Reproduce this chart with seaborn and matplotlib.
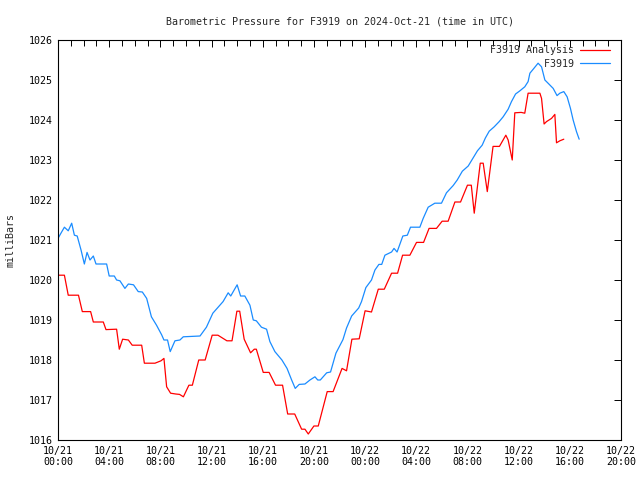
import pandas as pd
import matplotlib
matplotlib.use('Agg')
import matplotlib.pyplot as plt
import matplotlib.dates as mdates
import seaborn as sns

# hours after 2024-10-21 00:00 UTC and pressure in mb
analysis_hours = [0, 0.5, 0.8, 1.6, 1.9, 2.55, 2.76, 3.54, 3.75, 4.58, 4.79, 5.05, 5.5, 5.8,
                  6.54, 6.75, 7.58, 8.05, 8.28, 8.49, 8.8, 9.2, 9.5, 9.8, 10.23, 10.5, 11.0,
                  11.5, 12.05, 12.5, 13.2, 13.6, 13.98, 14.2, 14.55, 15.05, 15.34, 15.5, 16.04,
                  16.5, 17.0, 17.55, 17.95, 18.5, 19.04, 19.3, 19.56, 20.0, 20.34, 21.04, 21.5,
                  22.2, 22.55, 22.97, 23.54, 24.0, 24.5, 25.03, 25.5, 26.07, 26.54, 26.93, 27.5,
                  28.02, 28.57, 29.0, 29.58, 30.02, 30.49, 31.02, 31.46, 32.0, 32.3, 32.53, 33.0,
                  33.23, 33.55, 34.0, 34.5, 35.0, 35.18, 35.5, 35.7, 36.2, 36.48, 36.74, 37.66,
                  37.79, 37.99, 38.18, 38.57, 38.83, 38.96, 39.22, 39.53]
analysis_mb = [1020.12, 1020.12, 1019.62, 1019.62, 1019.21, 1019.21, 1018.95, 1018.95, 1018.76,
               1018.77, 1018.27, 1018.52, 1018.5, 1018.37, 1018.37, 1017.92, 1017.92, 1017.98,
               1018.04, 1017.33, 1017.17, 1017.15, 1017.14, 1017.08, 1017.37, 1017.37, 1018.0,
               1018.0, 1018.62, 1018.62, 1018.48, 1018.48, 1019.22, 1019.22, 1018.52, 1018.18,
               1018.27, 1018.27, 1017.69, 1017.69, 1017.37, 1017.37, 1016.65, 1016.65, 1016.27,
               1016.27, 1016.15, 1016.35, 1016.35, 1017.21, 1017.21, 1017.79, 1017.73, 1018.52,
               1018.53, 1019.23, 1019.2, 1019.77, 1019.77, 1020.17, 1020.17, 1020.62, 1020.62,
               1020.94, 1020.94, 1021.29, 1021.29, 1021.47, 1021.47, 1021.95, 1021.95, 1022.37,
               1022.37, 1021.67, 1022.92, 1022.92, 1022.21, 1023.34, 1023.34, 1023.62, 1023.5,
               1023.0, 1024.18, 1024.19, 1024.17, 1024.67, 1024.67, 1024.54, 1023.9, 1023.96,
               1024.04, 1024.14, 1023.43, 1023.48, 1023.52]

station_hours = [0, 0.23, 0.5, 0.8, 1.07, 1.28, 1.5, 1.8, 2.06, 2.27, 2.5, 2.76, 2.97, 3.8, 4.0,
                 4.4, 4.58, 4.84, 5.23, 5.5, 5.9, 6.27, 6.59, 6.93, 7.3, 7.7, 8.1, 8.28, 8.56,
                 8.77, 9.14, 9.53, 9.79, 11.1, 11.6, 12.1, 12.9, 13.3, 13.5, 14.0, 14.27, 14.6,
                 15.0, 15.26, 15.5, 15.9, 16.3, 16.56, 16.95, 17.5, 17.9, 18.26, 18.54, 18.85,
                 19.3, 19.69, 20.08, 20.3, 20.5, 21.0, 21.3, 21.72, 22.27, 22.55, 22.95, 23.5,
                 23.72, 24.06, 24.5, 24.77, 25.08, 25.3, 25.55, 26.07, 26.26, 26.5, 26.95, 27.3,
                 27.55, 28.28, 28.54, 28.93, 29.45, 29.97, 30.36, 30.88, 31.2, 31.6, 32.06,
                 32.42, 32.78, 33.15, 33.4, 33.7, 34.09, 34.48, 34.79, 35.18, 35.44, 35.76,
                 36.1, 36.48, 36.74, 36.88, 37.19, 37.52, 37.79, 38.05, 38.3, 38.7, 39.0, 39.22,
                 39.53, 39.79, 40.05, 40.26, 40.52, 40.73]
station_mb = [1021.04, 1021.17, 1021.32, 1021.23, 1021.42, 1021.12, 1021.1, 1020.75, 1020.4,
              1020.69, 1020.5, 1020.6, 1020.4, 1020.4, 1020.1, 1020.1, 1020.0, 1019.98, 1019.79,
              1019.9, 1019.88, 1019.71, 1019.7, 1019.54, 1019.08, 1018.87, 1018.63, 1018.5,
              1018.5, 1018.21, 1018.48, 1018.5, 1018.58, 1018.6, 1018.82, 1019.17, 1019.46,
              1019.68, 1019.6, 1019.88, 1019.6, 1019.6, 1019.37, 1019.0, 1018.98, 1018.82,
              1018.77, 1018.46, 1018.21, 1018.0, 1017.79, 1017.5, 1017.29, 1017.39, 1017.4,
              1017.5, 1017.58, 1017.5, 1017.5, 1017.68, 1017.7, 1018.17, 1018.51, 1018.8,
              1019.1, 1019.3, 1019.46, 1019.81, 1020.0, 1020.25, 1020.39, 1020.39, 1020.62,
              1020.7, 1020.79, 1020.7, 1021.1, 1021.12, 1021.32, 1021.32, 1021.54, 1021.82,
              1021.92, 1021.92, 1022.18, 1022.36, 1022.5, 1022.72, 1022.85, 1023.04, 1023.23,
              1023.37, 1023.55, 1023.72, 1023.83, 1023.96, 1024.08, 1024.27, 1024.46, 1024.65,
              1024.73, 1024.83, 1024.96, 1025.17, 1025.29, 1025.42, 1025.33, 1025.0, 1024.92,
              1024.79, 1024.61, 1024.67, 1024.71, 1024.58, 1024.29, 1024.0, 1023.71, 1023.52]

series_names = ['F3919 Analysis', '         F3919']
series_colors = ['#ff0000', '#1a8cff']

start = pd.Timestamp('2024-10-21 00:00')
df = pd.concat([
    pd.DataFrame({'time': start + pd.to_timedelta(analysis_hours, unit='h'),
                  'mb': analysis_mb, 'series': series_names[0]}),
    pd.DataFrame({'time': start + pd.to_timedelta(station_hours, unit='h'),
                  'mb': station_mb, 'series': series_names[1]}),
])

sns.set_style('white')
plt.rcParams['font.family'] = ['DejaVu Sans Mono']
plt.rcParams['font.size'] = 7.2

fig = plt.figure(figsize=(6.4, 4.8), dpi=100)
ax = fig.add_axes([58 / 640, 40 / 480, 563 / 640, 400 / 480])

sns.lineplot(data=df, x='time', y='mb', hue='series', hue_order=series_names,
             palette=dict(zip(series_names, series_colors)), linewidth=0.9,
             sort=False, estimator=None, ax=ax)

ax.set_xlim(start, start + pd.Timedelta(hours=44))
ax.set_ylim(1016, 1026)
ax.set_yticks(range(1016, 1027))
ax.xaxis.set_major_locator(mdates.HourLocator(byhour=range(0, 24, 4)))
ax.xaxis.set_minor_locator(mdates.HourLocator())
ax.xaxis.set_major_formatter(mdates.DateFormatter('%m/%d\n%H:%M'))

for s in ax.spines.values():
    s.set_color('black')
    s.set_linewidth(0.8)
ax.tick_params(which='both', direction='in', top=True, right=True, colors='black',
               width=0.7, labelsize=7.2, pad=4)
ax.tick_params(which='major', length=5)
ax.tick_params(which='minor', length=4)

ax.set_xlabel('')
ax.set_ylabel('milliBars', fontsize=7.2)
ax.yaxis.set_label_coords(-0.076, 0.5)
ax.set_title('Barometric Pressure for F3919 on 2024-Oct-21 (time in UTC)', fontsize=7.2, pad=11)

leg = ax.legend(loc='upper right', bbox_to_anchor=(0.9805, 0.987), frameon=False,
                markerfirst=False, fontsize=7.2, handlelength=3.0, handletextpad=0.6,
                labelspacing=0.35, borderaxespad=0, borderpad=0)

fig.savefig('out.png', dpi=100)
